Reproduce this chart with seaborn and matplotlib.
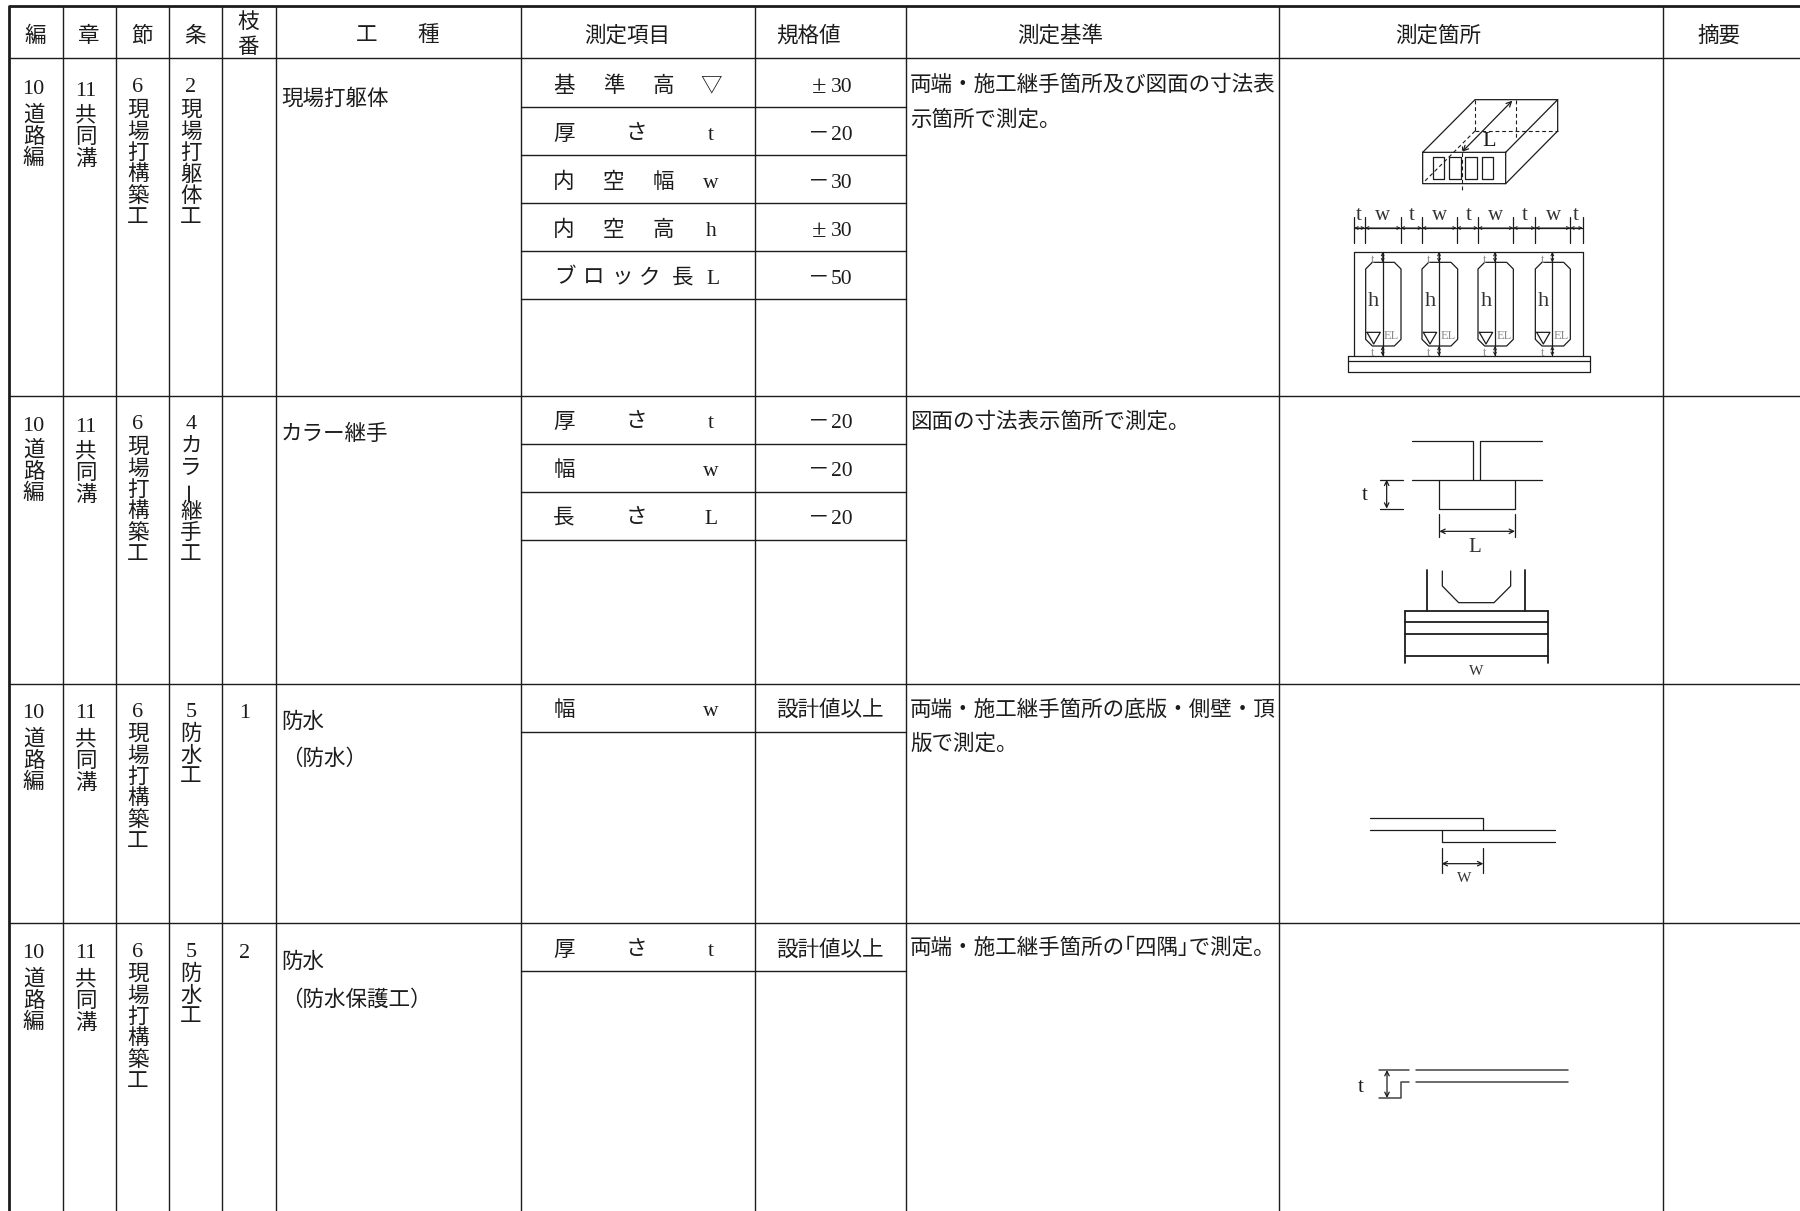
import pandas as pd
import seaborn as sns
import matplotlib.pyplot as plt

sns.set_theme(style='white')
plt.rcParams['font.family'] = ['Liberation Serif', 'Noto Sans CJK JP', 'DejaVu Sans']

INK = '#1c1c1c'
FS = 15.5
TEXT_DY = 3  # va=center sits a bit high with the CJK fallback

# table structure (pixel positions of the rules)
col_x = [9, 62.5, 115.7, 168.7, 222.3, 275.7, 521, 755, 905.6, 1278.7, 1663]
header_y = 58.3
row_top = [58.3, 395.7, 683.5, 923.3]
item_rules = [[107.3, 155, 203, 251, 299], [443.7, 491.5, 539.6], [732], [971]]

# header labels
header_labels = [('編', 35.5, 33.5), ('章', 88.5, 33.5), ('節', 141.5, 33.5), ('条', 195, 33.5),
                 ('枝', 248, 20), ('番', 248, 45), ('工', 367, 33.5), ('種', 428, 33.5),
                 ('測定項目', 627, 33.5), ('規格値', 808.6, 33.5), ('測定基準', 1059.8, 33.5),
                 ('測定箇所', 1438, 33.5), ('摘要', 1719, 33.5)]

# left hand columns per row
hen = [('10', '道路編')] * 4
sho = [('11', '共同溝')] * 4
setsu = [('6', '現場打構築工')] * 4
jo = [('2', '現場打躯体工'), ('4', 'カラー継手工'), ('5', '防水工'), ('5', '防水工')]
edaban = ['', '', '1', '2']
edaban_y = [0, 0, 711, 950]
num_y = [[86.5, 88.5, 84.5, 84.5], [423.5, 424.5, 421.5, 421.5], [710.5, 710.5, 709.5, 709.5], [950.5, 950.5, 949.5, 949.5]]
first_y = [[113, 114, 108, 108], [448, 450, 445, 445], [737, 738, 732, 732], [977, 978, 972, 972]]

koshu = [[('現場打躯体', 96)], [('カラー継手', 432)], [('防水', 720), ('（防水）', 757)],
         [('防水', 960), ('（防水保護工）', 997)]]

# measured items, each label char with its x
item_x4 = [564, 613.5, 663.5, 711]
items = [
    [('基準高▽', item_x4, 84), ('厚さt', [564, 636, 711], 132), ('内空幅w', item_x4, 180),
     ('内空高h', item_x4, 228), ('ブロック長L', [565, 594, 622, 650, 683, 713], 276)],
    [('厚さt', [564, 636, 711], 420), ('幅w', [564, 711], 468), ('長さL', [564, 636, 711], 516)],
    [('幅w', [564, 711], 708)],
    [('厚さt', [564, 636, 711], 948)],
]
spec_values = [
    [('±', '30', 84), ('－', '20', 132), ('－', '30', 180), ('±', '30', 228), ('－', '50', 276)],
    [('－', '20', 420), ('－', '20', 468), ('－', '20', 516)],
    [('', '設計値以上', 708)],
    [('', '設計値以上', 948)],
]
criteria = [
    [('両端・施工継手箇所及び図面の寸法表', 83), ('示箇所で測定。', 117)],
    [('図面の寸法表示箇所で測定。', 419)],
    [('両端・施工継手箇所の底版・側壁・頂', 707), ('版で測定。', 741)],
    [('両端・施工継手箇所の｢四隅｣で測定。', 945)],
]

# sketch 1, zoom coords (origin 1280,70, 3x)
box_lines = [[(428, 247), (677, 247), (677, 341), (428, 341), (428, 247), (585, 89), (833, 89), (677, 247)],
             [(833, 89), (833, 183), (677, 341)]]
box_dashed = [[(585, 89), (585, 183)], [(585, 183), (833, 183)], [(708, 89), (708, 208)],
              [(585, 183), (430, 338)], [(547, 228), (547, 362)]]
box_holes = [(458, 492), (507, 542), (556, 590), (606, 640)]
dim_ticks = [223, 255, 362, 426, 530, 594, 700, 766, 871, 908]
dim_labels = [('t', 237), ('w', 309), ('t', 396), ('w', 478), ('t', 565), ('w', 647), ('t', 735), ('w', 821), ('t', 887)]
cell_left = [257, 426, 594, 766]
cell_right = [363, 533, 700, 871]
cell_mid = [308, 477, 645, 817]

# sketch 2 (origin 1280,410)
joint_lines = [[(396, 93), (580, 93), (580, 209)], [(785, 93), (600, 93), (600, 209)], [(396, 209), (785, 209)],
               [(478, 209), (478, 296), (705, 296), (705, 209)], [(299, 209), (368, 209)], [(299, 296), (368, 296)],
               [(478, 313), (478, 380)], [(705, 313), (705, 380)],
               [(487, 483), (487, 528), (536, 578), (642, 578), (692, 528), (692, 483)]]
joint_heavy = [[(441, 480), (441, 603)], [(735, 480), (735, 603)], [(375, 603), (804, 603)], [(375, 636), (804, 636)],
               [(375, 672), (804, 672)], [(375, 738), (804, 738)], [(375, 603), (375, 758)], [(804, 603), (804, 758)]]

# sketch 3 (origin 1320,780)
lap_lines = [[(150, 113), (490, 113), (490, 149)], [(150, 149), (705, 149)], [(365, 149), (365, 185), (705, 185)],
             [(365, 205), (365, 280)], [(490, 205), (490, 280)]]
prot_lines = [[(176, 870), (266, 870)], [(287, 870), (744, 870)], [(287, 906), (744, 906)],
              [(266, 906), (243, 906), (243, 954), (176, 954)]]


def shift(polys, ox, oy):
    return [[(ox + x / 3, oy + y / 3) for x, y in p] for p in polys]


def draw_lines(ax, polys, lw=0.9, color=INK, **kw):
    recs = []
    for i, p in enumerate(polys):
        for x, y in p:
            recs.append({'x': x, 'y': y, 'seg': i})
    df = pd.DataFrame(recs)
    sns.lineplot(data=df, x='x', y='y', units='seg', estimator=None, sort=False, errorbar=None,
                 color=color, linewidth=lw, legend=False, ax=ax, **kw)


def arrow(ax, p0, p1, ms=8, lw=0.9):
    ax.annotate('', xy=p1, xytext=p0,
                arrowprops=dict(arrowstyle='<->', color=INK, lw=lw, mutation_scale=ms, shrinkA=0, shrinkB=0))


def put(ax, s, x, y, fs=FS, ha='center', color=INK, **kw):
    ax.text(x, y + TEXT_DY, s, fontsize=fs, ha=ha, va='center', color=color, **kw)


def vertical(ax, num, word, x, y_num, y_first):
    put(ax, num, x, y_num, fs=16)
    for i, ch in enumerate(word):
        put(ax, ch, x, y_first + i * 21.5, rotation=90 if ch == 'ー' else 0)


fig = plt.figure(figsize=(18, 12.11), dpi=100)
ax = fig.add_axes([0, 0, 1, 1])

# table rules
rules = [[(x, 5.5), (x, 1211)] for x in col_x[1:]]
rules += [[(9, header_y), (1800, header_y)]]
rules += [[(9, y), (1800, y)] for y in row_top[1:]]
for r in item_rules:
    rules += [[(col_x[6], y), (col_x[8], y)] for y in r]
draw_lines(ax, rules, lw=1.0)
draw_lines(ax, [[(1800, 5.5), (9, 5.5), (9, 1211)]], lw=2.0)

# header
for s, x, y in header_labels:
    put(ax, s, x, y)

# body
col_mid = [33.5, 86, 138, 191]
for r in range(4):
    for c, pair in enumerate([hen[r], sho[r], setsu[r], jo[r]]):
        vertical(ax, pair[0], pair[1], col_mid[c], num_y[r][c], first_y[r][c])
    if edaban[r]:
        put(ax, edaban[r], 245, edaban_y[r], fs=16)
    for s, y in koshu[r]:
        put(ax, s, 281, y, ha='left')
    for s, xs, y in items[r]:
        for ch, x in zip(s, xs):
            put(ax, ch, x, y)
    for sign, s, y in spec_values[r]:
        if sign:
            put(ax, sign, 819, y, fs=19 if sign == '±' else FS)
            put(ax, s, 842, y, fs=15.5)
        else:
            put(ax, s, 830, y)
    for s, y in criteria[r]:
        put(ax, s, 910, y, ha='left')

# sketch 1
ox, oy = 1280, 70
lines1 = list(box_lines)
for a, b in box_holes:
    lines1.append([(a, 262), (b, 262), (b, 326), (a, 326), (a, 262)])
lines1.append([(223, 474), (908, 474)])
lines1 += [[(x, 441), (x, 518)] for x in dim_ticks]
lines1.append([(223, 858), (223, 546), (908, 546), (908, 858)])
lines1.append([(203, 858), (931, 858), (931, 907), (203, 907), (203, 858)])
lines1.append([(203, 872), (931, 872)])
for l, rr, m in zip(cell_left, cell_right, cell_mid):
    lines1.append([(l + 20, 577), (rr - 20, 577), (rr, 597), (rr, 808), (rr - 20, 828), (l + 20, 828),
                   (l, 808), (l, 597), (l + 20, 577)])
    lines1.append([(m, 546), (m, 858)])
    lines1.append([(l + 4, 787), (l + 44, 787), (l + 24, 822), (l + 4, 787)])
draw_lines(ax, shift(lines1, ox, oy), lw=0.9)
draw_lines(ax, shift(box_dashed, ox, oy), lw=0.8, linestyle=(0, (3.5, 2.5)))


def p1(x, y):
    return (ox + x / 3, oy + y / 3)


arrow(ax, p1(547, 245), p1(697, 92), ms=9)
put(ax, 'L', *p1(628, 205), fs=16)
for s, x in dim_labels:
    put(ax, s, *p1(x, 428), fs=15, color='#333333')
for a, b in zip(dim_ticks[:-1], dim_ticks[1:]):
    arrow(ax, p1(a, 474), p1(b, 474), ms=5, lw=0.7)
for l, m in zip(cell_left, cell_mid):
    put(ax, 'h', *p1(l + 24, 685), fs=16, color='#333333')
    put(ax, 'EL', *p1(m + 27, 790), fs=9, color='#888888')
    put(ax, 't', *p1(m - 30, 562), fs=9, color='#888888')
    put(ax, 't', *p1(m - 30, 840), fs=9, color='#888888')
    arrow(ax, p1(m, 546), p1(m, 577), ms=5, lw=0.7)
    arrow(ax, p1(m, 828), p1(m, 858), ms=5, lw=0.7)

# sketch 2
ox, oy = 1280, 410
draw_lines(ax, shift(joint_lines, ox, oy), lw=0.9)
draw_lines(ax, shift(joint_heavy, ox, oy), lw=1.3)
arrow(ax, p1(320, 209), p1(320, 296))
arrow(ax, p1(478, 364), p1(705, 364))
put(ax, 't', *p1(255, 247), fs=15)
put(ax, 'L', *p1(585, 405), fs=15, color='#333333')
put(ax, 'W', *p1(590, 775), fs=11, color='#333333')

# sketch 3 and 4
ox, oy = 1320, 780
draw_lines(ax, shift(lap_lines, ox, oy), lw=0.9)
draw_lines(ax, shift(prot_lines, ox, oy), lw=1.1, color='#444444')
arrow(ax, p1(365, 251), p1(490, 251))
arrow(ax, p1(201, 870), p1(201, 954))
put(ax, 'W', *p1(432, 287), fs=11, color='#333333')
put(ax, 't', *p1(123, 912), fs=15)

ax.set_xlim(0, 1800)
ax.set_ylim(1211, 0)
ax.axis('off')
fig.savefig('out.png', dpi=100, facecolor='white')
